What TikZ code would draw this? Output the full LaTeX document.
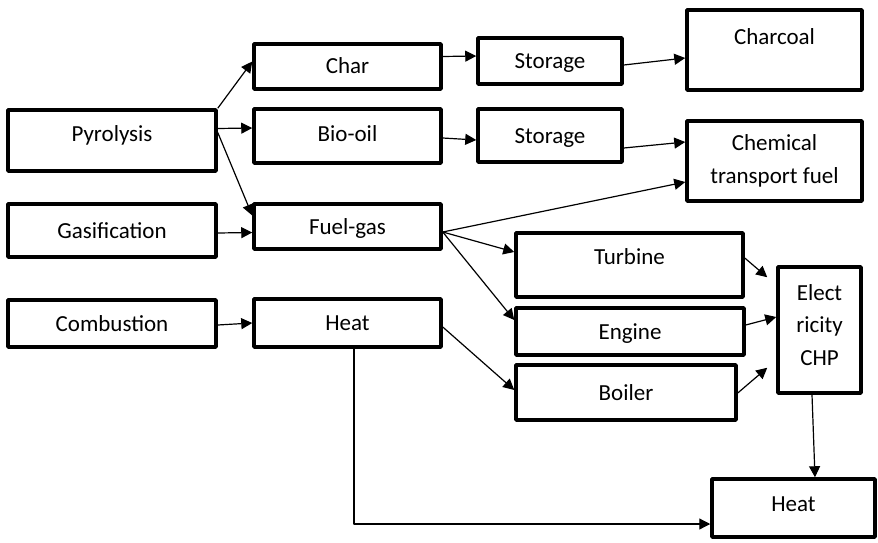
\documentclass[tikz,border=0pt]{standalone}
\usepackage{fontspec}
\setmainfont{Carlito}
\usetikzlibrary{arrows.meta}
\begin{document}
\begin{tikzpicture}[x=1pt,y=-1pt,line join=round,>={Triangle[length=11pt,width=11pt]},
		box/.style={draw,line width=3.5pt,align=center,inner sep=0pt,font=\fontsize{23}{32.5}\selectfont},
		one/.style={box,text height=15pt,text depth=#1},one/.default=0pt,
		link/.style={->,line width=1.2pt}]
		\useasboundingbox (0,0) rectangle (878,543);
		\path
		(112,140.5) node[one=14pt,minimum width=208pt,minimum height=61pt] (pyro) {Pyrolysis}
		(112,230.5) node[one,minimum width=208pt,minimum height=53pt] (gasif) {Gasification}
		(112,323.5) node[one,minimum width=208pt,minimum height=47pt] (comb) {Combustion}
		(347.5,66.5) node[one,minimum width=187pt,minimum height=45pt] (char) {Char}
		(347.5,136) node[one=5pt,minimum width=187pt,minimum height=54pt] (biooil) {Bio-oil}
		(347.5,226.5) node[one,minimum width=187pt,minimum height=45pt] (fuelgas) {Fuel-gas}
		(347.5,323) node[one,minimum width=187pt,minimum height=48pt] (heatA) {Heat}
		(550,61) node[one,minimum width=144pt,minimum height=46pt] (storeA) {Storage}
		(550,135.5) node[one,minimum width=144pt,minimum height=53pt] (storeB) {Storage}
		(774.5,50) node[one=26pt,minimum width=175pt,minimum height=80pt] (charcoal) {Charcoal}
		(774.5,161) node[box,minimum width=175pt,minimum height=80pt] (chem) {Chemical\\transport fuel}
		(629.5,265) node[one=16pt,minimum width=227pt,minimum height=64pt] (turbine) {Turbine}
		(630,331.5) node[one,minimum width=228pt,minimum height=47pt] (engine) {Engine}
		(626,392.5) node[one,minimum width=220pt,minimum height=55pt] (boiler) {Boiler}
		(819.5,330) node[box,minimum width=83pt,minimum height=126pt] (elec) {Elect\\ricity\\CHP\\[-22pt]}
		(793.5,508) node[one=8pt,minimum width=163pt,minimum height=58pt] (heatB) {Heat}
		;
		\draw[link] (pyro.north east) -- ([yshift=5pt]char.west);
		\draw[link] ([yshift=12pt]pyro.east) -- ([yshift=8pt]biooil.west);
		\draw[link] ([yshift=8pt]pyro.east) -- ([yshift=11pt]fuelgas.west);
		\draw[link] ([yshift=-2.5pt]gasif.east) -- ([yshift=-6pt]fuelgas.west);
		\draw[link] ([yshift=-1.5pt]comb.east) -- (heatA.west);
		\draw[link] ([yshift=10pt]char.east) -- ([yshift=5pt]storeA.west);
		\draw[link] ([yshift=-4pt]storeA.east) -- ([yshift=-8pt]charcoal.west);
		\draw[link] ([yshift=-2pt]biooil.east) -- ([yshift=-4.5pt]storeB.west);
		\draw[link] ([yshift=-12.5pt]storeB.east) -- ([yshift=19pt]chem.west);
		\draw[link] ([yshift=-5.5pt]fuelgas.east) -- ([yshift=-21pt]chem.west);
		\draw[link] ([yshift=-5.5pt]fuelgas.east) -- ([yshift=13pt]turbine.west);
		\draw[link] ([yshift=-5.5pt]fuelgas.east) -- ([yshift=11.5pt]engine.west);
		\draw[link] ([yshift=-4pt]heatA.east) -- ([yshift=2.5pt]boiler.west);
		\draw[link] ([yshift=7pt]turbine.east) -- ([xshift=-9pt,yshift=-12pt]elec.north west);
		\draw[link] ([yshift=6.5pt]engine.east) -- ([yshift=13pt]elec.west);
		\draw[link] ([yshift=-0.5pt]boiler.east) -- ([xshift=-9pt,yshift=27pt]elec.south west);
		\draw[link] ([xshift=-7.5pt]elec.south) -- ([xshift=21.5pt]heatB.north);
		\draw[link] ([xshift=6.5pt]heatA.south) |- ([yshift=-16pt]heatB.west);
\end{tikzpicture}
\end{document}
